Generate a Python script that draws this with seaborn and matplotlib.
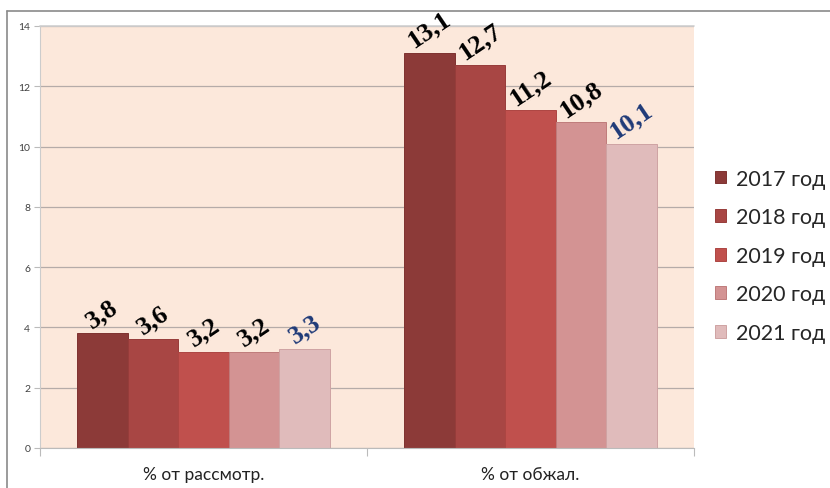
import matplotlib
matplotlib.use("Agg")
import matplotlib.pyplot as plt
import seaborn as sns
import pandas as pd
from matplotlib.patches import Patch
from matplotlib.lines import Line2D

categories = ["% от рассмотр.", "% от обжал."]
years = ["2017 год", "2018 год", "2019 год", "2020 год", "2021 год"]
values_2017 = [3.8, 13.1]
values_2018 = [3.6, 12.7]
values_2019 = [3.2, 11.2]
values_2020 = [3.2, 10.8]
values_2021 = [3.3, 10.1]
labels_2017 = ["3,8", "13,1"]
labels_2018 = ["3,6", "12,7"]
labels_2019 = ["3,2", "11,2"]
labels_2020 = ["3,2", "10,8"]
labels_2021 = ["3,3", "10,1"]
colors = ["#8C3A38", "#A84644", "#C0504D", "#D39393", "#E0BBBB"]
edges = ["#7E3230", "#973C3A", "#AD4542", "#BF7B7B", "#CFA3A3"]

all_vals = [values_2017, values_2018, values_2019, values_2020, values_2021]
all_labels = [labels_2017, labels_2018, labels_2019, labels_2020, labels_2021]
rows = []
for y, vals, labs in zip(years, all_vals, all_labels):
    for c, v, l in zip(categories, vals, labs):
        rows.append({"cat": c, "year": y, "val": v, "lab": l})
df = pd.DataFrame(rows)

sns.set_theme(style="white")
plt.rcParams["font.family"] = ["Lato", "DejaVu Sans"]

fig = plt.figure(figsize=(8.3, 4.89), dpi=100)
ax = fig.add_axes([40/830, 1-449/489, (694-40)/830, (449-27)/489])
ax.set_facecolor("#FCE8DB")

sns.barplot(data=df, x="cat", y="val", hue="year", hue_order=years,
            order=categories, palette=colors, width=0.774, ax=ax,
            legend=False, saturation=1, errorbar=None, linewidth=0)

for cont, ec, labs, yr in zip(ax.containers, edges, all_labels, years):
    for bar, lab in zip(cont, labs):
        bar.set_edgecolor(ec)
        bar.set_linewidth(0.7)
        col = "#1F3A78" if yr == "2021 год" else "black"
        ax.text(bar.get_x() + bar.get_width()/2, bar.get_height() + 0.06, lab,
                rotation=34, ha="center", va="bottom", fontsize=19,
                fontweight="bold", family=["Liberation Serif", "DejaVu Serif"],
                color=col)

ax.set_ylim(0, 14)
ax.set_xlim(-0.5, 1.5)
ax.set_yticks(range(0, 15, 2))
ax.yaxis.grid(True, color="#B5ABA8", linewidth=0.9)
ax.set_axisbelow(True)
ax.tick_params(axis="y", labelsize=7.5, colors="#404040", left=True, length=4,
               width=0.8, color="#BBBBBB", pad=3)
ax.set_xticks([0, 1])
ax.set_xticklabels(categories, fontsize=12.5, color="#222222")
ax.tick_params(axis="x", bottom=False, length=0, pad=13)
ax.set_xticks([-0.5, 0.5, 1.5], minor=True)
ax.tick_params(axis="x", which="minor", bottom=True, length=6, width=0.8,
               color="#BBBBBB")
ax.set_xlabel("")
ax.set_ylabel("")
for s in ["top", "right"]:
    ax.spines[s].set_visible(False)
ax.spines["left"].set_color("#CCCCCC")
ax.spines["bottom"].set_color("#BBBBBB")
ax.spines["left"].set_linewidth(0.8)
ax.spines["bottom"].set_linewidth(0.8)
ax.axhline(14, color="#D0D0D0", linewidth=1.2, clip_on=False)
for t in ax.get_yticklabels():
    t.set_fontsize(7.5)

handles = [Patch(facecolor=c, edgecolor=e, linewidth=0.7) for c, e in zip(colors, edges)]
fig.legend(handles, years, loc="upper left", bbox_to_anchor=(706/830, 1-161/489),
           frameon=False, fontsize=15.5, handlelength=0.55, handleheight=0.55,
           handletextpad=0.45, labelspacing=0.86, borderaxespad=0)

fig.add_artist(Line2D([7/830, 1.0], [1-12/489, 1-12/489], transform=fig.transFigure,
                      color="#8A8A8A", linewidth=1.2))
fig.add_artist(Line2D([7/830, 7/830], [0, 1-12/489], transform=fig.transFigure,
                      color="#8A8A8A", linewidth=1.2))

fig.savefig("out.png", dpi=100, facecolor="white")
